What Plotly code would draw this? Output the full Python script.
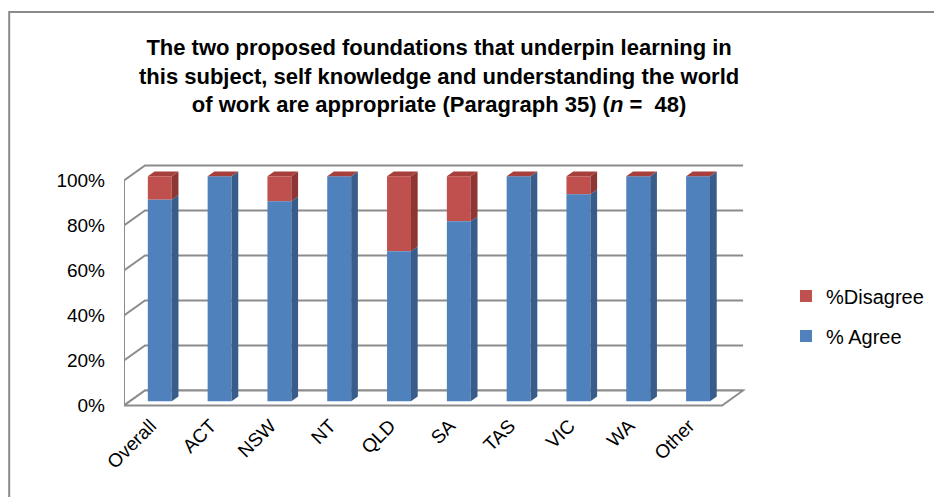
import plotly.graph_objects as go

# ---------------- data ----------------
categories = ["Overall", "ACT", "NSW", "NT", "QLD", "SA", "TAS", "VIC", "WA", "Other"]
agree = [0.896, 1.0, 0.889, 1.0, 0.667, 0.80, 1.0, 0.92, 1.0, 1.0]
disagree = [0.104, 0.0, 0.111, 0.0, 0.333, 0.20, 0.0, 0.08, 0.0, 0.0]
y_ticks = [0, 0.2, 0.4, 0.6, 0.8, 1.0]
title_text = ("<b>The two proposed foundations that underpin learning in<br>"
              "this subject, self knowledge and understanding the world<br>"
              "of work are appropriate (Paragraph 35) (<i>n</i> =\u00a0 48)</b>")

# ---------------- style / 3D projection ----------------
W, H = 942, 497
OFFX, OFFY = 6, 6            # page offset of the figure in the browser
ML, MR, MT, MB = 122 - OFFX, 198 + OFFX, 156 - OFFY, 89 + OFFY
XR = [-0.5, 9.9]
YR = [-0.02, 1.1]
DX, DY = 0.351, 0.0667      # full depth offset (data units)
D0, D1 = 0.28, 0.60          # bar front / back depth fractions
BW = 0.40                    # bar front width

BLUE, BLUE_SIDE = "#4F81BD", "#385D8A"
RED, RED_SIDE, RED_TOP = "#C0504D", "#8E3633", "#A7403C"
GRID = "#8C8C8C"
FONT = "Liberation Sans, Arial, sans-serif"

pw = W - ML - MR
ph = H - MT - MB


def px_x(p):   # p: screen pixel
    return (p - OFFX - ML) / pw


def px_y(p):
    return (H - MB - (p - OFFY)) / ph


n = len(categories)
centers = [i + D0 * DX for i in range(n)]
off0 = D0 * DY
ddx, ddy = (D1 - D0) * DX, (D1 - D0) * DY

fig = go.Figure()

# front faces (library bars)
fig.add_trace(go.Bar(x=centers, y=disagree, base=[off0 + a for a in agree], width=BW,
                     marker=dict(color=RED, line=dict(width=0)), name="%Disagree",
                     legend="legend", hoverinfo="skip"))
fig.add_trace(go.Bar(x=centers, y=agree, base=[off0] * n, width=BW,
                     marker=dict(color=BLUE, line=dict(width=0)), name="% Agree",
                     legend="legend2", hoverinfo="skip"))


def side_poly(c, y0, y1):
    xr = c + BW / 2
    return [xr, xr + ddx, xr + ddx, xr, xr, None], \
           [y0 + off0, y0 + off0 + ddy, y1 + off0 + ddy, y1 + off0, y0 + off0, None]


def top_poly(c, y1):
    xl, xr = c - BW / 2, c + BW / 2
    yy = y1 + off0
    return [xl, xl + ddx, xr + ddx, xr, xl, None], [yy, yy + ddy, yy + ddy, yy, yy, None]


bsx, bsy, rsx, rsy, tx, ty = [], [], [], [], [], []
for c, a, d in zip(centers, agree, disagree):
    xs, ys = side_poly(c, 0, a)
    bsx += xs; bsy += ys
    if d > 0:
        xs, ys = side_poly(c, a, a + d)
        rsx += xs; rsy += ys
    xs, ys = top_poly(c, a + d)
    tx += xs; ty += ys

for xs, ys, col in [(bsx, bsy, BLUE_SIDE), (rsx, rsy, RED_SIDE), (tx, ty, RED_TOP)]:
    fig.add_trace(go.Scatter(x=xs, y=ys, mode="lines", fill="toself", fillcolor=col,
                             line=dict(width=0, color=col), showlegend=False,
                             hoverinfo="skip"))

# walls / gridlines (frame decoration, below data)
shapes = []
x_fl, x_fr = XR[0], n - 0.5
for t in y_ticks:
    shapes.append(dict(type="path", xref="x", yref="y", layer="below",
                       path=f"M{x_fl},{t} L{x_fl + DX},{t + DY} L{x_fr + DX},{t + DY}",
                       line=dict(color=GRID, width=2)))
shapes.append(dict(type="line", xref="x", yref="y", layer="below", x0=x_fl, x1=x_fl,
                   y0=0, y1=y_ticks[-1], line=dict(color=GRID, width=2)))
# floor
shapes.append(dict(type="path", xref="x", yref="y", layer="below",
                   path=f"M{x_fl},0 L{x_fr},0 L{x_fr + DX},{DY} L{x_fl + DX},{DY} Z",
                   line=dict(color=GRID, width=2), fillcolor="white"))
# outer chart border
shapes.append(dict(type="rect", xref="paper", yref="paper", layer="above",
                   x0=px_x(OFFX + 1.2), x1=px_x(W + 20), y0=px_y(H + 20), y1=px_y(10),
                   line=dict(color="#8A8A8A", width=2)))

annotations = [dict(text=title_text, xref="paper", yref="paper", x=px_x(437), y=px_y(73.5),
                    xanchor="center", yanchor="middle", showarrow=False, align="center",
                    font=dict(family=FONT, size=22, color="black"))]

fig.update_layout(
    width=W, height=H, autosize=False,
    margin=dict(l=ML, r=MR, t=MT, b=MB, autoexpand=False),
    paper_bgcolor="white", plot_bgcolor="white",
    barmode="overlay",
    font=dict(family=FONT, color="black", size=19),
    xaxis=dict(range=XR, tickvals=[c - 0.15 for c in centers], ticktext=categories,
               tickangle=-45, showgrid=False, zeroline=False, showline=False, ticks="",
               ticklabelstandoff=0, tickfont=dict(size=19), fixedrange=True,
               automargin=False),
    yaxis=dict(range=YR, tickvals=y_ticks, tickformat=".0%", showgrid=False,
               zeroline=False, showline=False, ticks="", ticklabelstandoff=18,
               tickfont=dict(size=19), fixedrange=True, automargin=False),
    legend=dict(x=px_x(784), xanchor="left", y=px_y(294), yanchor="middle",
                font=dict(size=20), bgcolor="rgba(0,0,0,0)", itemwidth=30),
    legend2=dict(x=px_x(784), xanchor="left", y=px_y(334), yanchor="middle",
                 font=dict(size=20), bgcolor="rgba(0,0,0,0)", itemwidth=30),
    shapes=shapes,
    annotations=annotations,
)

fig.write_html("out.html")
